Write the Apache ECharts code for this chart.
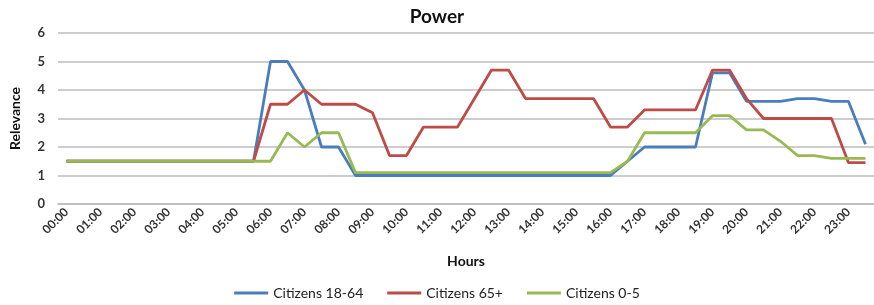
<!DOCTYPE html>
<html>
<head>
<meta charset="utf-8">
<script src="https://cdn.jsdelivr.net/npm/echarts@6/dist/echarts.min.js"></script>
<style>html,body{margin:0;padding:0;background:#fff}#c{width:874px;height:305px}</style>
</head>
<body>
<div id="c"></div>
<script>
const categories = ["00:00","00:30","01:00","01:30","02:00","02:30","03:00","03:30","04:00","04:30","05:00","05:30",
"06:00","06:30","07:00","07:30","08:00","08:30","09:00","09:30","10:00","10:30","11:00","11:30",
"12:00","12:30","13:00","13:30","14:00","14:30","15:00","15:30","16:00","16:30","17:00","17:30",
"18:00","18:30","19:00","19:30","20:00","20:30","21:00","21:30","22:00","22:30","23:00","23:30"];
const adults = [1.5,1.5,1.5,1.5,1.5,1.5,1.5,1.5,1.5,1.5,1.5,1.5,
5,5,4,2,2,1,1,1,1,1,1,1,
1,1,1,1,1,1,1,1,1,1.5,2,2,
2,2,4.6,4.6,3.6,3.6,3.6,3.7,3.7,3.6,3.6,2.1];
const seniors = [1.5,1.5,1.5,1.5,1.5,1.5,1.5,1.5,1.5,1.5,1.5,1.5,
3.5,3.5,4,3.5,3.5,3.5,3.2,1.7,1.7,2.7,2.7,2.7,
3.7,4.7,4.7,3.7,3.7,3.7,3.7,3.7,2.7,2.7,3.3,3.3,
3.3,3.3,4.7,4.7,3.7,3.0,3.0,3.0,3.0,3.0,1.45,1.45];
const children = [1.5,1.5,1.5,1.5,1.5,1.5,1.5,1.5,1.5,1.5,1.5,1.5,
1.5,2.5,2.0,2.5,2.5,1.1,1.1,1.1,1.1,1.1,1.1,1.1,
1.1,1.1,1.1,1.1,1.1,1.1,1.1,1.1,1.1,1.5,2.5,2.5,
2.5,2.5,3.1,3.1,2.6,2.6,2.2,1.7,1.7,1.6,1.6,1.6];
const seriesNames = ["Citizens 18-64","Citizens 65+","Citizens 0-5"];
const colors = ["#4a7ebb","#be4b48","#98b954"];
const yTicks = [0,1,2,3,4,5,6];

const chart = echarts.init(document.getElementById('c'));
const font = 'Lato, "Open Sans", sans-serif';
const mk = (name, data, color) => ({
  name, type: 'line', data, symbol: 'none', smooth: false,
  lineStyle: {width: 2.8, color}, itemStyle: {color}
});
chart.setOption({
  animation: false,
  textStyle: {fontFamily: font},
  title: {text: 'Power', left: 'center', top: 2,
    textStyle: {fontSize: 19, fontWeight: 'bold', color: '#111', fontFamily: font}},
  grid: {left: 51, top: 33, width: 824, bottom: 101, containLabel: false},
  legend: {
    bottom: 0, left: 'center', icon: 'rect', itemWidth: 34, itemHeight: 3, itemGap: 24,
    textStyle: {fontSize: 14, color: '#222', fontFamily: font},
    data: seriesNames
  },
  xAxis: {
    type: 'category', data: categories, boundaryGap: true,
    name: 'Hours', nameLocation: 'middle', nameGap: 50,
    nameTextStyle: {fontSize: 14, fontWeight: 'bold', color: '#111'},
    axisLine: {lineStyle: {color: '#bcbcbc', width: 1.5}},
    axisTick: {show: false},
    axisLabel: {interval: 1, rotate: 45, fontSize: 12, fontWeight: 'bold', color: '#333', margin: 6},
    splitLine: {show: false}
  },
  yAxis: {
    type: 'value', min: 0, max: 6, interval: 1,
    name: 'Relevance', nameLocation: 'middle', nameGap: 36, nameRotate: 90,
    nameTextStyle: {fontSize: 14, fontWeight: 'bold', color: '#111'},
    axisLine: {show: false}, axisTick: {show: false},
    axisLabel: {fontSize: 13, fontWeight: 'bold', color: '#333', margin: 13},
    splitLine: {lineStyle: {color: '#bcbcbc', width: 1.5}}
  },
  series: [
    mk(seriesNames[0], adults, colors[0]),
    mk(seriesNames[1], seniors, colors[1]),
    mk(seriesNames[2], children, colors[2])
  ]
});
</script>
</body>
</html>
